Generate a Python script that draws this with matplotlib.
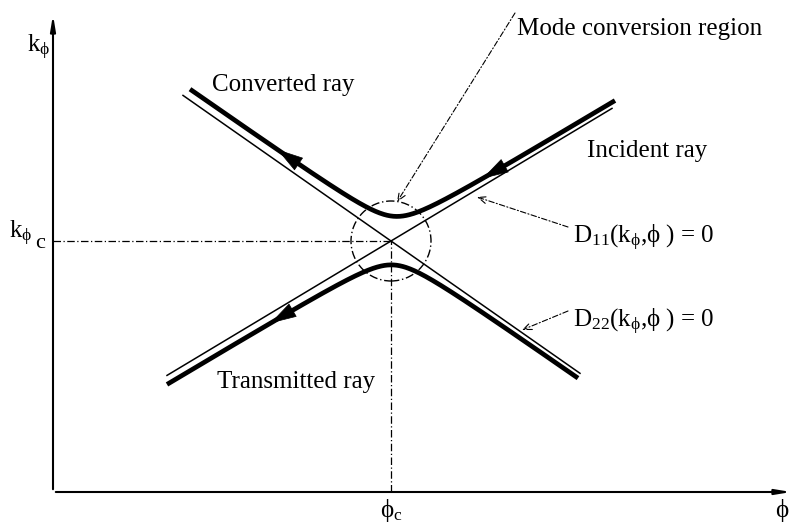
import numpy as np
import matplotlib
matplotlib.use('Agg')
import matplotlib.pyplot as plt
from matplotlib.patches import Circle

plt.rcParams['font.family'] = ['Liberation Serif', 'DejaVu Serif']
plt.rcParams['mathtext.fontset'] = 'custom'
plt.rcParams['mathtext.rm'] = 'Liberation Serif'
plt.rcParams['mathtext.it'] = 'Liberation Serif'
plt.rcParams['mathtext.default'] = 'regular'

# critical point of the mode conversion (axis units, 1 unit = 100 px)
phi_c = 3.38
k_c = 2.51

# slopes of the two dispersion branches
slope_d11 = 0.60
slope_d22 = 0.70

# extents (relative to phi_c) of the thin dispersion lines and thick rays
d11_span = [-2.24, 2.21]
d22_span = [-2.08, 1.89]
upper_span = [-2.01, 2.24]
lower_span = [-2.24, 1.87]

# offsets of the rays from the D11 / D22 lines, and coupling strength
upper_offsets = [0.05, 0.10]
lower_offsets = [0.08, 0.05]
coupling = 0.030
region_radius = 0.40

# ray arrows: (branch, position of tip relative to phi_c)
ray_arrows = [('upper', -1.16), ('upper', 0.89), ('lower', -1.23)]


def d11(u):
    return k_c + slope_d11 * u


def d22(u):
    return k_c - slope_d22 * u


def ray(u, branch):
    if branch == 'upper':
        o1, o2 = upper_offsets
        sign = 1
    else:
        o1, o2 = lower_offsets
        sign = -1
    l1 = d11(u) + sign * o1
    l2 = d22(u) + sign * o2
    return (l1 + l2) / 2 + sign * np.sqrt(((l1 - l2) / 2) ** 2 + coupling)


fig = plt.figure(figsize=(7.95, 5.3), dpi=100)
ax = fig.add_axes([0, 0, 1, 1])
ax.set_xlim(-0.53, 7.42)
ax.set_ylim(-0.38, 4.92)
ax.axis('off')

# axes
ax.annotate('', xy=(0, 4.80), xytext=(0, 0),
            arrowprops=dict(arrowstyle='-|>,head_length=0.9,head_width=0.15', lw=1.5, color='k'))
ax.annotate('', xy=(7.41, 0), xytext=(0, 0),
            arrowprops=dict(arrowstyle='-|>,head_length=0.9,head_width=0.15', lw=1.5, color='k'))

# thin dispersion lines
u = np.linspace(*d11_span, 2)
ax.plot(phi_c + u, d11(u), color='k', lw=1.1)
u = np.linspace(*d22_span, 2)
ax.plot(phi_c + u, d22(u), color='k', lw=1.1)

# thick rays
for branch, span in [('upper', upper_span), ('lower', lower_span)]:
    u = np.linspace(*span, 400)
    ax.plot(phi_c + u, ray(u, branch), color='k', lw=3.4, solid_capstyle='butt')

for branch, ut in ray_arrows:
    ub = ut + 0.15
    ax.annotate('', xy=(phi_c + ut, ray(ut, branch)),
                xytext=(phi_c + ub, ray(ub, branch)),
                arrowprops=dict(arrowstyle='-|>,head_length=1.1,head_width=0.32',
                                lw=0.5, color='k', mutation_scale=16))

# critical lines and mode conversion region
ax.plot([0, phi_c], [k_c, k_c], color='k', lw=0.9, ls='-.', dashes=(6, 2, 1, 2))
ax.plot([phi_c, phi_c], [0, k_c], color='k', lw=0.9, ls='-.', dashes=(6, 2, 1, 2))
ax.add_patch(Circle((phi_c, k_c), region_radius, fill=False, color='k', lw=1.0,
                    ls=(0, (6, 2, 1, 2))))

leader = dict(arrowstyle='->,head_length=0.6,head_width=0.25', lw=0.8, color='k',
              ls=(0, (5, 2, 1, 2)), shrinkA=0, shrinkB=0)
ax.annotate('', xy=(3.44, 2.90), xytext=(4.62, 4.79), arrowprops=leader)
ax.annotate('', xy=(4.24, 2.95), xytext=(5.15, 2.65), arrowprops=leader)
ax.annotate('', xy=(4.69, 1.62), xytext=(5.15, 1.81), arrowprops=leader)

fs = 18
ax.text(4.64, 4.57, 'Mode conversion region', fontsize=fs, va='baseline')
ax.text(2.12 - 0.53, 4.01, 'Converted ray', fontsize=fs, va='baseline')
ax.text(5.34, 3.35, 'Incident ray', fontsize=fs, va='baseline')
ax.text(1.64, 1.04, 'Transmitted ray', fontsize=fs, va='baseline')
ax.text(5.20, 2.49, r'D$_{11}$(k$_{ϕ}$,ϕ ) = 0', fontsize=fs, va='baseline')
ax.text(5.20, 1.65, r'D$_{22}$(k$_{ϕ}$,ϕ ) = 0', fontsize=fs, va='baseline')

ax.text(-0.26, 4.40, r'k$_{ϕ}$', fontsize=fs, va='baseline')
ax.text(-0.44, 2.54, r'k$_{ϕ}$', fontsize=fs, va='baseline')
ax.text(-0.18, 2.44, 'c', fontsize=16, va='baseline')
ax.text(3.27, -0.25, r'ϕ$_{c}$', fontsize=fs, va='baseline')
ax.text(7.22, -0.25, 'ϕ', fontsize=fs, va='baseline')

fig.savefig('out.png', dpi=100)
